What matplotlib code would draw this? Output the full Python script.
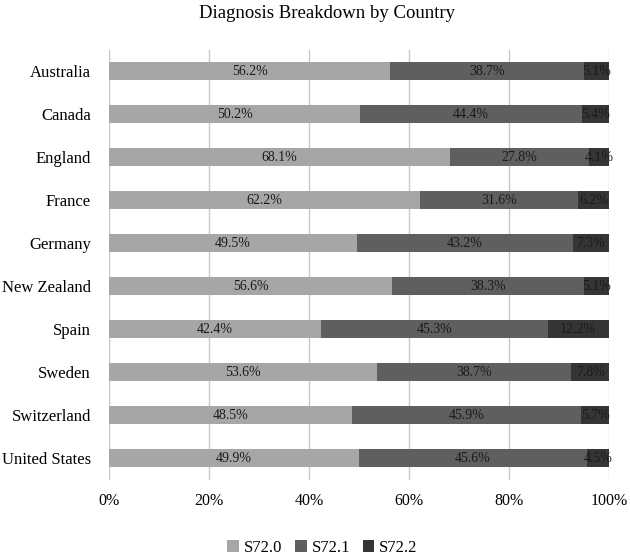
import matplotlib
matplotlib.use("Agg")
import matplotlib.pyplot as plt
import numpy as np

countries = ["Australia", "Canada", "England", "France", "Germany", "New Zealand",
             "Spain", "Sweden", "Switzerland", "United States"]
s720 = [56.2, 50.2, 68.1, 62.2, 49.5, 56.6, 42.4, 53.6, 48.5, 49.9]
s721 = [38.7, 44.4, 27.8, 31.6, 43.2, 38.3, 45.3, 38.7, 45.9, 45.6]
s722 = [5.1, 5.4, 4.1, 6.2, 7.3, 5.1, 12.2, 7.8, 5.7, 4.5]
series_names = ["S72.0", "S72.1", "S72.2"]
colors = ["#a6a6a6", "#5f5f5f", "#353535"]

plt.rcParams['font.family'] = ['Liberation Serif', 'DejaVu Serif']

fig = plt.figure(figsize=(6.3, 5.6), dpi=100)
ax = fig.add_axes([0.173, 0.1437, 0.794, 0.7679])

y = np.arange(len(countries))
left = np.zeros(len(countries))
for name, vals, c in zip(series_names, [s720, s721, s722], colors):
    vals = np.array(vals)
    ax.barh(y, vals, left=left, height=0.4, color=c, label=name, zorder=3)
    for yi, l, v in zip(y, left, vals):
        ax.text(l + v / 2, yi, f"{v:.1f}%", ha="center", va="center",
                fontsize=10, color="#1a1a1a", zorder=4)
    left = left + vals

ax.set_xlim(0, 100)
ax.set_ylim(len(countries) - 0.5, -0.5)
ax.set_yticks(y)
ax.set_yticklabels(countries, fontsize=12)
ax.set_xticks(np.arange(0, 101, 20))
ax.set_xticklabels([f"{v}%" for v in range(0, 101, 20)], fontsize=11.5)
ax.tick_params(axis='y', length=0, pad=13)
ax.tick_params(axis='x', length=0, pad=10)
ax.xaxis.grid(True, color="#c8c8c8", linewidth=1, zorder=0)
for s in ax.spines.values():
    s.set_visible(False)

fig.suptitle("Diagnosis Breakdown by Country", x=0.519, y=1 - 14 / 560,
             va="center", fontsize=13.5)

fig.legend(loc="center", bbox_to_anchor=(0.512, 1 - 548 / 560), ncol=3, frameon=False,
           fontsize=12, handlelength=0.7, handleheight=0.7, handletextpad=0.3,
           columnspacing=0.75)

fig.savefig("out.png", dpi=100)
